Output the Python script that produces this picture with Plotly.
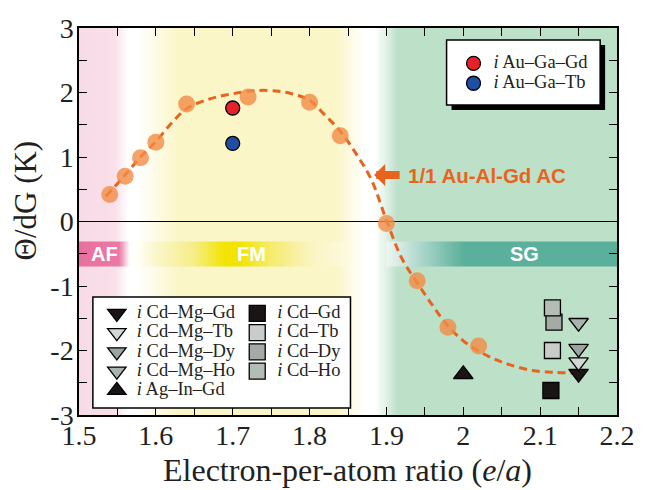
import numpy as np
import plotly.graph_objects as go

# ---------------- data ----------------
ac_x = [1.54, 1.56, 1.58, 1.60, 1.64, 1.72, 1.80, 1.84, 1.90, 1.94, 1.98, 2.02]
ac_y = [0.42, 0.70, 0.99, 1.23, 1.82, 1.93, 1.85, 1.33, -0.03, -0.92, -1.64, -1.93]

fit_x = [1.535, 1.56, 1.58, 1.60, 1.62, 1.64, 1.67, 1.70, 1.73, 1.76, 1.78, 1.80,
         1.82, 1.84, 1.86, 1.88, 1.90, 1.92, 1.94, 1.96, 1.98, 2.00, 2.02, 2.04,
         2.06, 2.09, 2.12, 2.145]
fit_y = [0.39, 0.72, 1.00, 1.24, 1.52, 1.75, 1.90, 1.98, 2.03, 2.02, 1.97, 1.88,
         1.65, 1.40, 1.06, 0.66, 0.02, -0.57, -0.95, -1.30, -1.62, -1.85, -2.01, -2.13,
         -2.22, -2.31, -2.34, -2.35]

augagd_x, augagd_y = [1.70], [1.76]
augatb_x, augatb_y = [1.70], [1.21]

cdmggd_x, cdmggd_y = [2.15], [-2.36]
cdmgtb_x, cdmgtb_y = [2.15], [-2.18]
cdmgdy_x, cdmgdy_y = [2.15], [-1.97]
cdmgho_x, cdmgho_y = [2.15], [-1.57]
aginpd_x, aginpd_y = [2.00], [-2.37]

cdgd_x, cdgd_y = [2.114], [-2.62]
cdtb_x, cdtb_y = [2.116], [-2.00]
cddy_x, cddy_y = [2.118], [-1.56]
cdho_x, cdho_y = [2.116], [-1.34]

x_ticks = [1.5, 1.6, 1.7, 1.8, 1.9, 2.0, 2.1, 2.2]
x_labels = ['1.5', '1.6', '1.7', '1.8', '1.9', '2', '2.1', '2.2']
y_ticks = [-3, -2, -1, 0, 1, 2, 3]
y_labels = ['-3', '-2', '-1', '0', '1', '2', '3']

X_RANGE = [1.5, 2.2]
Y_RANGE = [-3, 3]

# background colour stops (x position -> colour)
bg_stops = [(1.50, '#f8dbe7'), (1.545, '#f9dfe9'), (1.565, '#ffffff'), (1.575, '#ffffff'),
            (1.63, '#fbf6c8'), (1.835, '#fbf6c8'), (1.872, '#ffffff'), (1.886, '#ffffff'),
            (1.915, '#bde0c9'), (2.20, '#bde0c9')]
band1_stops = [(1.50, '#e8709f'), (1.552, '#ea78a5'), (1.566, '#ffffff'), (1.575, '#fffffa'),
               (1.60, '#fbf6cc'), (1.65, '#f6ed86'), (1.69, '#f2e400'), (1.71, '#f2e400'),
               (1.75, '#f5eb6c'), (1.80, '#faf4bf'), (1.85, '#fdfae0')]
band2_stops = [(1.90, '#eef6f2'), (2.00, '#5bb09b'), (2.20, '#5bb09b')]
BAND = [-0.69, -0.31]

W, H = 647, 490
ML, MR, MT, MB = 79, 25, 28, 75
PW, PH = W - ML - MR, H - MT - MB


def px_x(p):
    return (p - ML) / PW


def px_y(p):
    return (H - MB - p) / PH


def grad_heatmap(stops, y_edges):
    x0, x1 = stops[0][0], stops[-1][0]
    xe = np.linspace(x0, x1, 501)
    xc = (xe[:-1] + xe[1:]) / 2
    cs = [[(s - x0) / (x1 - x0), c] for s, c in stops]
    return go.Heatmap(x=xe, y=y_edges, z=[xc], colorscale=cs, zmin=x0, zmax=x1,
                      showscale=False, hoverinfo='skip', showlegend=False)


fig = go.Figure()
fig.add_trace(grad_heatmap(bg_stops, Y_RANGE))
fig.add_trace(grad_heatmap(band1_stops, BAND))
fig.add_trace(grad_heatmap(band2_stops, BAND))

# zero line
fig.add_trace(go.Scatter(x=X_RANGE, y=[0, 0], mode='lines', line=dict(color='black', width=1.2),
                         showlegend=False, hoverinfo='skip'))

# dashed guide curve
fig.add_trace(go.Scatter(x=fit_x, y=fit_y, mode='lines', line_shape='spline',
                         line=dict(color='#e8641c', width=3, dash='8px,5px'),
                         showlegend=False, hoverinfo='skip'))

# 1/1 AC points
fig.add_trace(go.Scatter(x=ac_x, y=ac_y, mode='markers',
                         marker=dict(size=17, color='rgba(242,140,70,0.8)', line=dict(width=0)),
                         showlegend=False))

LEG_SPAN = '<span style="font-size:18.5px"><i>i</i> %s</span>'


def add_pts(x, y, name, symbol, color, size, legend, lw=1.3):
    fig.add_trace(go.Scatter(x=x, y=y, mode='markers', name=LEG_SPAN % name, legend=legend,
                             marker=dict(symbol=symbol, size=size, color=color,
                                         line=dict(color='black', width=lw))))


add_pts(augagd_x, augagd_y, 'Au–Ga–Gd', 'circle', '#e52229', 14, 'legend')
add_pts(augatb_x, augatb_y, 'Au–Ga–Tb', 'circle', '#1f4ea3', 14, 'legend')

add_pts(cdmggd_x, cdmggd_y, 'Cd–Mg–Gd', 'triangle-down', '#1a1414', 17, 'legend2')
add_pts(cdmgtb_x, cdmgtb_y, 'Cd–Mg–Tb', 'triangle-down', '#d2d8d4', 17, 'legend2')
add_pts(cdmgdy_x, cdmgdy_y, 'Cd–Mg–Dy', 'triangle-down', '#9aa59e', 17, 'legend2')
add_pts(cdmgho_x, cdmgho_y, 'Cd–Mg–Ho', 'triangle-down', '#aab4ae', 17, 'legend2')
add_pts(aginpd_x, aginpd_y, 'Ag–In–Gd', 'triangle-up', '#1a1414', 17, 'legend2')

add_pts(cdgd_x, cdgd_y, 'Cd–Gd', 'square', '#1a1414', 16, 'legend3')
add_pts(cdtb_x, cdtb_y, 'Cd–Tb', 'square', '#c9cdca', 16, 'legend3')
add_pts(cddy_x, cddy_y, 'Cd–Dy', 'square', '#a4aaa6', 16, 'legend3')
add_pts(cdho_x, cdho_y, 'Cd–Ho', 'square', '#b4bcb6', 16, 'legend3')

SERIF = 'Liberation Serif, Times New Roman, serif'
SANS = 'Liberation Sans, Arial, sans-serif'

leg_common = dict(bgcolor='rgba(0,0,0,0)', borderwidth=0, itemwidth=30, tracegroupgap=0,
                  xanchor='left', yanchor='top', traceorder='normal')

axis_common = dict(showline=True, linecolor='black', linewidth=1.5, mirror='allticks',
                   ticks='inside', ticklen=8, tickwidth=1.2, tickcolor='black',
                   showgrid=False, zeroline=False,
                   tickfont=dict(family=SERIF, size=28, color='#231f20'))

fig.update_xaxes(range=X_RANGE, tickmode='array', tickvals=x_ticks, ticktext=x_labels,
                 ticklabelstandoff=-5,
                 minor=dict(dtick=0.05, tick0=1.5, ticks='inside', ticklen=8, tickcolor='black',
                            tickwidth=1.2, showgrid=False),
                 **axis_common)
fig.update_yaxes(range=Y_RANGE, tickmode='array', tickvals=y_ticks, ticktext=y_labels,
                 ticklabelstandoff=-2,
                 minor=dict(dtick=0.5, tick0=0, ticks='inside', ticklen=8, tickcolor='black',
                            tickwidth=1.2, showgrid=False),
                 **axis_common)

shapes = [
    # top-right legend box with shadow
    dict(type='rect', xref='paper', yref='paper', x0=px_x(455), x1=px_x(610), y0=px_y(110), y1=px_y(45),
         fillcolor='black', line=dict(width=0), layer='above'),
    dict(type='rect', xref='paper', yref='paper', x0=px_x(450), x1=px_x(605), y0=px_y(105), y1=px_y(40),
         fillcolor='white', line=dict(color='black', width=1.5), layer='above'),
    # bottom-left legend box
    dict(type='rect', xref='paper', yref='paper', x0=px_x(93), x1=px_x(353), y0=px_y(408), y1=px_y(297),
         fillcolor='white', line=dict(color='black', width=1.5), layer='above'),
]

annotations = [
    dict(x=1.533, y=-0.5, text='<b>AF</b>', showarrow=False, font=dict(family=SANS, size=20, color='white')),
    dict(x=1.7245, y=-0.5, text='<b>FM</b>', showarrow=False, font=dict(family=SANS, size=20, color='white')),
    dict(x=2.079, y=-0.5, text='<b>SG</b>', showarrow=False, font=dict(family=SANS, size=20, color='white')),
    dict(x=1.884, y=0.72, text='', showarrow=True, ax=27, ay=0, arrowhead=1, arrowwidth=8,
         arrowsize=0.46, arrowcolor='#e8641c', standoff=0),
    dict(x=1.925, y=0.72, text='<b>1/1 Au-Al-Gd AC</b>', showarrow=False, xanchor='left',
         font=dict(family=SANS, size=20.5, color='#e8641c')),
    dict(xref='paper', yref='paper', x=px_x(350), y=px_y(489), text='Electron-per-atom ratio (<i>e</i>/<i>a</i>)',
         showarrow=False, font=dict(family=SERIF, size=32, color='#231f20'), xanchor='center', yanchor='bottom',
         borderpad=0),
    dict(xref='paper', yref='paper', x=px_x(25), y=px_y(200), text='Θ/dG (K)', textangle=-90,
         showarrow=False, font=dict(family=SERIF, size=31, color='#231f20'), xanchor='center', yanchor='middle'),
]

fig.update_layout(
    width=W, height=H, margin=dict(l=ML, r=MR, t=MT, b=MB),
    paper_bgcolor='white', plot_bgcolor='white',
    shapes=shapes, annotations=annotations,
    font=dict(family=SERIF, color='#231f20'),
    legend=dict(x=px_x(457), y=px_y(48.4), font=dict(family=SERIF, size=13, color='#231f20'), **leg_common),
    legend2=dict(x=px_x(97), y=px_y(298.7), font=dict(family=SERIF, size=12.5, color='#231f20'), **leg_common),
    legend3=dict(x=px_x(238.7), y=px_y(298.7), font=dict(family=SERIF, size=12.5, color='#231f20'), **leg_common),
)

fig.write_html('out.html')
